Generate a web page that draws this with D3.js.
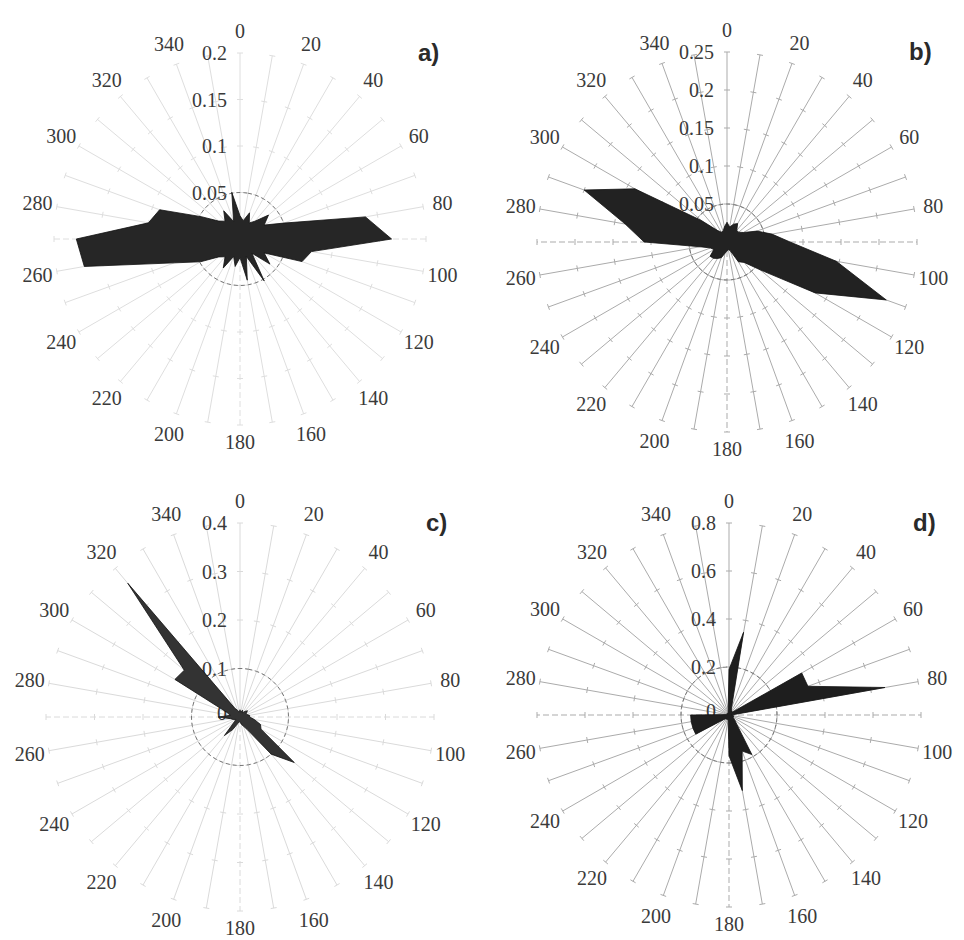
<!DOCTYPE html>
<html>
<head>
<meta charset="utf-8">
<script src="https://cdn.jsdelivr.net/npm/d3@7"></script>
<style>
  body { margin: 0; background: #fff; }
  svg { display: block; }
  .serif { font-family: "Liberation Serif", "DejaVu Serif", "Times New Roman", serif; }
</style>
</head>
<body>
<svg id="chart" width="964" height="940"></svg>
<script>
// wind directions (degrees, clockwise from north)
const directions = [0, 10, 20, 30, 40, 50, 60, 70, 80, 90, 100, 110, 120, 130, 140, 150, 160, 170,
  180, 190, 200, 210, 220, 230, 240, 250, 260, 270, 280, 290, 300, 310, 320, 330, 340, 350];
const directionLabels = ["0", "20", "40", "60", "80", "100", "120", "140", "160",
  "180", "200", "220", "240", "260", "280", "300", "320", "340"];

// frequencies per direction
const seriesA = [0.025, 0.02, 0.03, 0.02, 0.025, 0.04, 0.03, 0.05, 0.137, 0.163, 0.078, 0.071,
  0.03, 0.042, 0.02, 0.052, 0.02, 0.045, 0.02, 0.03, 0.02, 0.036, 0.025, 0.03,
  0.049, 0.075, 0.17, 0.176, 0.10, 0.092, 0.048, 0.03, 0.025, 0.035, 0.02, 0.051];
const seriesB = [0.026, 0.02, 0.025, 0.028, 0.02, 0.02, 0.025, 0.042, 0.06, 0.083, 0.146, 0.223,
  0.134, 0.057, 0.035, 0.03, 0.012, 0.01, 0.012, 0.015, 0.022, 0.025, 0.028, 0.029,
  0.02, 0.023, 0.036, 0.109, 0.136, 0.2, 0.14, 0.044, 0.02, 0.015, 0.015, 0.02];
const seriesC = [0.015, 0.01, 0.015, 0.01, 0.015, 0.02, 0.015, 0.015, 0.02, 0.02, 0.03, 0.045,
  0.05, 0.146, 0.10, 0.03, 0.02, 0.015, 0.01, 0.01, 0.015, 0.03, 0.05, 0.015,
  0.01, 0.015, 0.02, 0.045, 0.02, 0.03, 0.155, 0.15, 0.36, 0.02, 0.015, 0.01];
const seriesD = [0.19, 0.35, 0.03, 0.02, 0.02, 0.02, 0.35, 0.35, 0.66, 0.01, 0.02, 0.02,
  0.02, 0.03, 0.05, 0.19, 0.16, 0.32, 0.17, 0.02, 0.02, 0.02, 0.02, 0.03,
  0.16, 0.16, 0.16, 0.16, 0.01, 0.01, 0.01, 0.01, 0.01, 0.01, 0.01, 0.02];

// radial axis ticks
const ticksA = [0, 0.05, 0.1, 0.15, 0.2];
const ticksB = [0, 0.05, 0.1, 0.15, 0.2, 0.25];
const ticksC = [0, 0.1, 0.2, 0.3, 0.4];
const ticksD = [0, 0.2, 0.4, 0.6, 0.8];
const tickLabelsA = ["0", "0.05", "0.1", "0.15", "0.2"];
const tickLabelsB = ["0", "0.05", "0.1", "0.15", "0.2", "0.25"];
const tickLabelsC = ["0", "0.1", "0.2", "0.3", "0.4"];
const tickLabelsD = ["0", "0.2", "0.4", "0.6", "0.8"];

const panels = [
  {name: "a)", data: seriesA, ticks: ticksA, labels: tickLabelsA, cx: 240, cy: 239, R: 186, spoke: "#dedede", fill: "#262626"},
  {name: "b)", data: seriesB, ticks: ticksB, labels: tickLabelsB, cx: 727, cy: 242, R: 190, spoke: "#ababab", fill: "#222"},
  {name: "c)", data: seriesC, ticks: ticksC, labels: tickLabelsC, cx: 240, cy: 717, R: 194, spoke: "#dadada", fill: "#333"},
  {name: "d)", data: seriesD, ticks: ticksD, labels: tickLabelsD, cx: 729, cy: 715, R: 192, spoke: "#ababab", fill: "#1e1e1e"}
];

const svg = d3.select("#chart");
const rad = d => d * Math.PI / 180;

panels.forEach(p => {
  const r = d3.scaleLinear().domain([0, d3.max(p.ticks)]).range([0, p.R]);
  const g = svg.append("g").attr("transform", `translate(${p.cx},${p.cy})`);

  // spokes
  const spokes = g.append("g");
  spokes.selectAll("line").data(directions).enter().append("line")
    .attr("x1", 0).attr("y1", 0)
    .attr("x2", d => r.range()[1] * Math.sin(rad(d)))
    .attr("y2", d => -r.range()[1] * Math.cos(rad(d)))
    .attr("stroke", p.spoke)
    .attr("stroke-width", 1)
    .attr("stroke-dasharray", d => (d % 90 === 0 && d !== 0) ? "6,3" : null);

  // small tick marks on each spoke
  const tickMarks = [];
  directions.forEach(d => p.ticks.slice(1).forEach(t => tickMarks.push({d, t})));
  spokes.selectAll("path.tm").data(tickMarks).enter().append("path")
    .attr("class", "tm")
    .attr("d", k => {
      const a = rad(k.d), rr = r(k.t);
      const x = rr * Math.sin(a), y = -rr * Math.cos(a);
      const px = 3 * Math.cos(a), py = 3 * Math.sin(a);
      return `M${x - px},${y - py}L${x + px},${y + py}`;
    })
    .attr("stroke", p.spoke)
    .attr("stroke-width", 1);

  // radial tick labels (under the rose, like the original)
  g.selectAll("text.rl").data(p.ticks).enter().append("text")
    .attr("class", "rl serif")
    .attr("x", -13)
    .attr("y", d => -r(d) + (d === 0 ? -4 : 0))
    .attr("text-anchor", "end")
    .attr("dominant-baseline", "central")
    .attr("font-size", 20)
    .attr("fill", "#3a3a3a")
    .text((d, i) => p.labels[i]);

  // dashed ring at first tick
  const ring = d3.lineRadial()
    .angle(d => rad(d))
    .radius(() => r(p.ticks[1]))
    .curve(d3.curveCardinalClosed);
  g.append("path")
    .attr("d", ring(directions))
    .attr("fill", "none")
    .attr("stroke", "#777")
    .attr("stroke-width", 1)
    .attr("stroke-dasharray", "4,3");

  // filled rose
  const rose = d3.lineRadial()
    .angle((d, i) => rad(directions[i]))
    .radius(d => r(d))
    .curve(d3.curveLinearClosed);
  g.append("path")
    .attr("d", rose(p.data))
    .attr("fill", p.fill)
    .attr("stroke", "#111")
    .attr("stroke-width", 0.8);

  // direction labels every 20 degrees
  const labR = d => p.R + 19 + 3 * Math.abs(Math.cos(rad(+d)));
  g.selectAll("text.dl").data(directionLabels).enter().append("text")
    .attr("class", "dl serif")
    .attr("x", d => labR(d) * Math.sin(rad(+d)))
    .attr("y", d => -labR(d) * Math.cos(rad(+d)) - (+d === 180 ? 5 : 0))
    .attr("text-anchor", "middle")
    .attr("dominant-baseline", "central")
    .attr("font-size", 20)
    .attr("fill", "#3a3a3a")
    .text(d => d);

  // panel letter
  g.append("text")
    .attr("x", p.R - 8)
    .attr("y", -p.R + 8)
    .attr("font-family", "'Liberation Sans', Arial, sans-serif")
    .attr("font-weight", "bold")
    .attr("font-size", 24)
    .attr("fill", "#2a2a2a")
    .text(p.name);
});
</script>
</body>
</html>
